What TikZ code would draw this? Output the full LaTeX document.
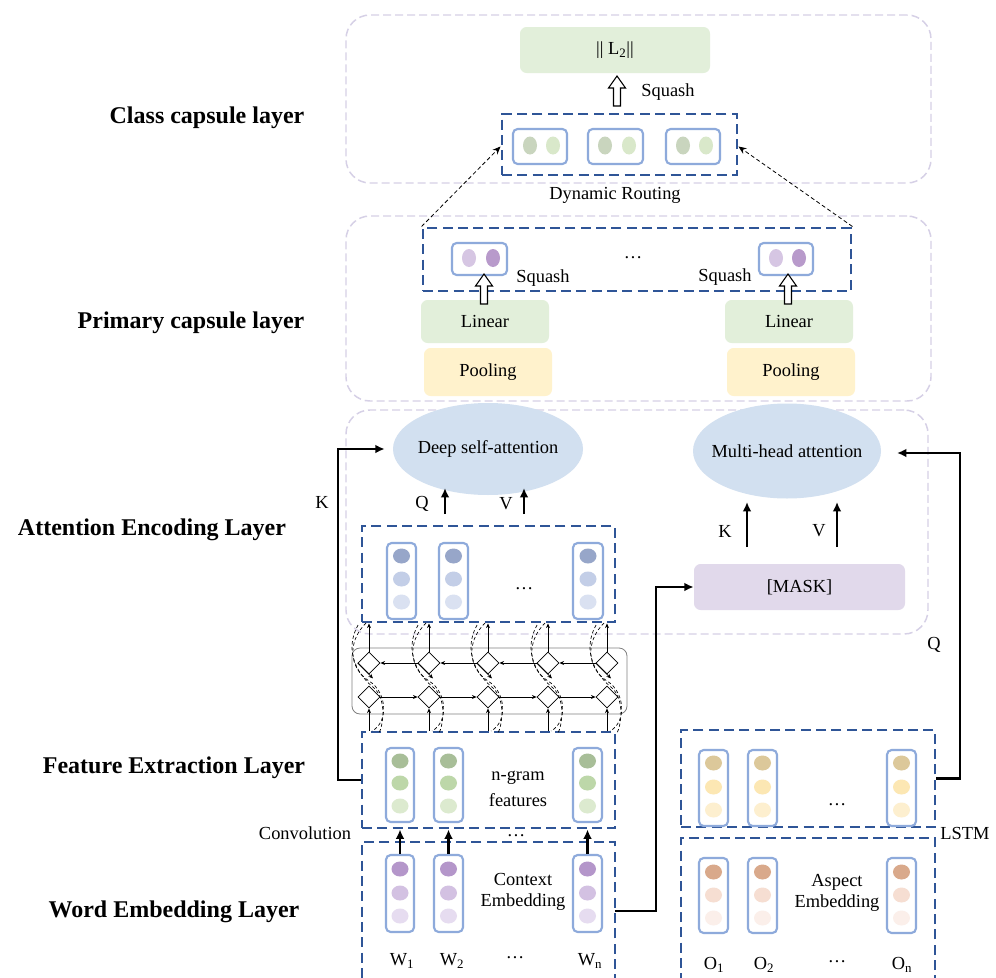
\documentclass[tikz,border=0pt]{standalone}
\usepackage{fontspec}
\setmainfont{Liberation Serif}
\usetikzlibrary{shapes.geometric,arrows.meta,fit,calc}
\newdimen\pxu \pxu=0.75pt
\definecolor{dblue}{HTML}{2F5597}
\definecolor{contc}{HTML}{D6D0E6}
\definecolor{lblue}{HTML}{8EAADB}
\definecolor{lgreen}{HTML}{E2EFDA}
\definecolor{lyellow}{HTML}{FFF2CC}
\definecolor{lpurple}{HTML}{E1D9EB}
\definecolor{ellblue}{HTML}{D2E0F0}
\definecolor{att1}{HTML}{97A6C9}\definecolor{att2}{HTML}{C3CEE7}\definecolor{att3}{HTML}{DAE1F1}
\definecolor{fea1}{HTML}{A8BE98}\definecolor{fea2}{HTML}{BDD7A9}\definecolor{fea3}{HTML}{DCEACF}
\definecolor{wrd1}{HTML}{B496CA}\definecolor{wrd2}{HTML}{D3C1E2}\definecolor{wrd3}{HTML}{E6DCF0}
\definecolor{lst1}{HTML}{DCC89A}\definecolor{lst2}{HTML}{FCE7B3}\definecolor{lst3}{HTML}{FDEFCF}
\definecolor{asp1}{HTML}{D9A98B}\definecolor{asp2}{HTML}{F6DED2}\definecolor{asp3}{HTML}{FBEFEA}
\definecolor{cga}{HTML}{C9D5BE}\definecolor{cgb}{HTML}{D9E8CA}
\definecolor{cpa}{HTML}{D6C6E3}\definecolor{cpb}{HTML}{B89ACB}
% column with three circles: name, x1,y1,x2,y2, ya,yb,yc, colour prefix
\newcommand\colthree[9]{%
  \node[colbox, fit={(#2,#3) (#4,#5)}] (#1) {};
  \fill[#91] ({(#2+#4)/2},#6) ellipse [x radius=8.5, y radius=7.5];
  \fill[#92] ({(#2+#4)/2},#7) ellipse [x radius=8.5, y radius=7.5];
  \fill[#93] ({(#2+#4)/2},#8) ellipse [x radius=8.5, y radius=7.5];
}
% capsule with two ellipses: name, x1,y1,x2,y2, colA, colB
\newcommand\captwo[7]{%
  \node[colbox, fit={(#2,#3) (#4,#5)}] (#1) {};
  \fill[#6] ({#2+17},{(#3+#5)/2-1}) ellipse [x radius=7, y radius=9];
  \fill[#7] ({#4-14},{(#3+#5)/2-1}) ellipse [x radius=7, y radius=9];
}
% hollow up arrow: x, ybottom, ytop
\newcommand\hollowup[3]{%
  \draw[black, line width=0.8pt, fill=white, line join=miter]
   ({#1-3.5},#2) -- ({#1-3.5},{#3+12}) -- ({#1-8.5},{#3+12}) -- (#1,#3)
   -- ({#1+8.5},{#3+12}) -- ({#1+3.5},{#3+12}) -- ({#1+3.5},#2) -- cycle;
}
\begin{document}
\begin{tikzpicture}[x=0.75pt,y=-0.75pt,
 txt/.style={font=\fontsize{13.8}{16}\selectfont, inner sep=0pt},
 lbl/.style={font=\fontsize{18}{21}\selectfont\bfseries, inner sep=0pt},
 cont/.style={draw=contc, line width=1.1pt, dash pattern=on 6pt off 3pt, rounded corners=18pt, inner sep=0pt},
 bbox/.style={draw=dblue, line width=2.2pt, dash pattern=on 7.5pt off 4pt, inner sep=0pt},
 colbox/.style={draw=lblue, line width=1.6pt, rounded corners=3.5pt, inner sep=0pt},
 fbox/.style={rounded corners=5pt, inner sep=0pt},
 conn/.style={line width=1.7pt, -{Latex[length=7pt,width=6.5pt]}},
 thinarr/.style={line width=0.5pt, -{Stealth[length=3.5pt,width=3pt]}},
 dia/.style={diamond, draw, line width=0.6pt, minimum width=22\pxu, minimum height=22\pxu, inner sep=0pt},
 route/.style={line width=0.6pt, dash pattern=on 3pt off 2pt, -{Stealth[length=6pt,width=5pt]}},
 bil/.style={line width=0.5pt, dash pattern=on 2.5pt off 1.8pt},
 ell/.style={ellipse, fill=ellblue, inner sep=0pt}
]
\useasboundingbox (0,0) rectangle (996,978);
\clip (0,0) rectangle (996,978);
\fill[white] (0,0) rectangle (996,978);

% layer containers
\node[cont, fit={(346,15) (931,183)}] (c1) {};
\node[cont, fit={(346,216) (931,401)}] (c2) {};
\node[cont, fit={(346,410) (928,634)}] (c3) {};

% left labels
\node[lbl] (lb1) at (207,118) {Class capsule layer};
\node[lbl] (lb2) at (191,323) {Primary capsule layer};
\node[lbl] (lb3) at (152,530) {Attention Encoding Layer};
\node[lbl] (lb4) at (174,768) {Feature Extraction Layer};
\node[lbl] (lb5) at (174,912) {Word Embedding Layer};

% ---- class capsule layer
\node[fbox, fill=lgreen, fit={(520,27) (710,73)}] (l2) {};
\node[txt] (l2t) at (l2) {|| L\textsubscript{2}||};
\hollowup{617}{106}{76}
\node[txt] (sq0) at (668,92) {Squash};
\node[bbox, fit={(502,114) (737,175)}] (classbox) {};
\captwo{k1}{513}{129}{567}{164}{cga}{cgb}
\captwo{k2}{588}{129}{643}{164}{cga}{cgb}
\captwo{k3}{666}{129}{720}{164}{cga}{cgb}
\node[txt] (dr) at (615,195) {Dynamic Routing};

% ---- primary capsule layer
\node[bbox, fit={(423,228) (851,291)}] (primbox) {};
\captwo{p1}{452}{243}{507}{275}{cpa}{cpb}
\captwo{p2}{759}{243}{813}{275}{cpa}{cpb}
\node[txt] (pdots) at (633,258) {…};
\node[txt] (sq1) at (543,278) {Squash};
\node[txt] (sq2) at (725,277) {Squash};
\node[fbox, fill=lgreen, fit={(421,300) (549,343)}] (lin1) {};
\node[txt] (lin1t) at (lin1) {Linear};
\node[fbox, fill=lgreen, fit={(725,300) (853,343)}] (lin2) {};
\node[txt] (lin2t) at (lin2) {Linear};
\node[fbox, fill=lyellow, fit={(424,348) (552,396)}] (pool1) {};
\node[txt] (pool1t) at (pool1) {Pooling};
\node[fbox, fill=lyellow, fit={(727,348) (855,396)}] (pool2) {};
\node[txt] (pool2t) at (pool2) {Pooling};
\hollowup{484}{304}{274}
\hollowup{788}{304}{274}

\draw[route] (primbox.north west) -- ([yshift=-2\pxu]classbox.west);
\draw[route] (primbox.north east) -- ([yshift=-2\pxu]classbox.east);

% ---- attention encoding layer
\node[ell, minimum width=190\pxu, minimum height=92\pxu] (dsa) at (488,449) {};
\node[txt] (dsat) at (dsa) {Deep self-attention};
\node[ell, minimum width=188\pxu, minimum height=95\pxu] (mha) at (787,451) {};
\node[txt] (mhat) at (mha) {Multi-head attention};

\node[bbox, fit={(362,526) (615,622)}] (attbox) {};
\colthree{a1}{387}{543}{416}{619}{556}{579}{602}{att}
\colthree{a2}{439}{543}{468}{619}{556}{579}{602}{att}
\colthree{a3}{573}{543}{603}{619}{556}{579}{602}{att}
\node[txt] (adots) at (524,589) {…};

\coordinate (qa) at (445,514); \coordinate (qb) at (445,488);
\coordinate (va) at (524,514); \coordinate (vb) at (524,488);
\draw[conn] (qa) -- (qb);
\draw[conn] (va) -- (vb);
\node[txt] (ql) at (422,504) {Q};
\node[txt] (vl) at (506,504) {V};

\node[fbox, fill=lpurple, fit={(694,564) (905,610)}] (mask) {};
\node[txt] (maskt) at (mask) {[MASK]};
\coordinate (ka) at (747,547); \coordinate (kb) at (747,502);
\coordinate (va2) at (837,547); \coordinate (vb2) at (837,502);
\draw[conn] (ka) -- (kb);
\draw[conn] (va2) -- (vb2);
\node[txt] (kl) at (725,531) {K};
\node[txt] (vl2) at (819,531) {V};

% ---- BiLSTM block
\node[draw=gray, line width=0.6pt, rounded corners=6pt, inner sep=0pt, fit={(352,648) (627,714)}] (bilstm) {};

% ---- feature extraction layer
\node[bbox, fit={(362,732) (615,828)}] (featbox) {};
\colthree{f1}{386}{748}{414}{822}{761}{783}{806}{fea}
\colthree{f2}{434}{748}{463}{822}{761}{783}{806}{fea}
\colthree{f3}{573}{748}{602}{822}{761}{783}{806}{fea}
\node[txt] (ng1) at (518,778) {n-gram};
\node[txt] (ng2) at (518,800) {features};

\foreach \x [count=\i] in {369,429,488,548,607} {
  \node[dia] (u\i) at (\x,663) {};
  \node[dia] (d\i) at (\x,697) {};
  \draw[thinarr] (u\i.north) -- (u\i.north |- attbox.south);
  \draw[thinarr] (d\i.south |- featbox.north) -- (d\i.south);
  \draw[thinarr] (u\i.west) -- ($(u\i.south)+(4,4)$);
  \draw[bil] (\x-3,623) .. controls (\x-22,642) and (\x-20,668) .. (\x,681) .. controls (\x+18,692) and (\x+20,722) .. (\x+3,731);
  \draw[bil] (\x-11,625) .. controls (\x-26,652) and (\x-10,676) .. (\x+5,688) .. controls (\x+18,700) and (\x+14,726) .. (\x+10,733);
}
\foreach \i/\j in {1/2,2/3,3/4,4/5} {
  \draw[thinarr] (u\j.west) -- (u\i.east);
  \draw[thinarr] (d\i.east) -- (d\j.west);
}

% ---- word embedding layer
\node[txt] (cdots) at (516,836) {…};
\node[bbox, fit={(362,842) (615,992)}] (wordbox) {};
\colthree{w1}{386}{855}{414}{932}{869}{893}{916}{wrd}
\colthree{w2}{434}{855}{463}{932}{869}{893}{916}{wrd}
\colthree{w3}{573}{855}{602}{932}{869}{893}{916}{wrd}
\node[txt] (ce1) at (523,879) {Context};
\node[txt] (ce2) at (523,902) {Embedding};
\node[txt] (wl1) at (402,961) {W\textsubscript{1}};
\node[txt] (wl2) at (452,961) {W\textsubscript{2}};
\node[txt] (wl3) at (515,958) {…};
\node[txt] (wl4) at (590,961) {W\textsubscript{n}};
\node[txt] (convl) at (305,833) {Convolution};
\foreach \i in {1,2,3} {
  \draw[conn] (w\i.north) -- (w\i.north |- featbox.south);
}

% ---- LSTM / aspect
\node[bbox, fit={(681,730) (935,827)}] (lstmbox) {};
\colthree{s1}{699}{750}{728}{826}{763}{787}{810}{lst}
\colthree{s2}{748}{750}{777}{826}{763}{787}{810}{lst}
\colthree{s3}{887}{750}{916}{826}{763}{787}{810}{lst}
\node[txt] (sdots) at (837,805) {…};
\node[txt] (lstml) at (965,833) {LSTM};

\node[bbox, fit={(681,838) (935,992)}] (aspbox) {};
\colthree{o1}{699}{858}{728}{933}{872}{895}{918}{asp}
\colthree{o2}{748}{858}{777}{933}{872}{895}{918}{asp}
\colthree{o3}{887}{858}{916}{933}{872}{895}{918}{asp}
\node[txt] (ae1) at (837,882) {Aspect};
\node[txt] (ae2) at (837,903) {Embedding};
\node[txt] (ol1) at (714,965) {O\textsubscript{1}};
\node[txt] (ol2) at (764,965) {O\textsubscript{2}};
\node[txt] (ol3) at (837,962) {…};
\node[txt] (ol4) at (902,965) {O\textsubscript{n}};

% ---- long connectors
\coordinate (kc1) at (338,780); \coordinate (kc2) at (338,449);
\draw[conn] (featbox.west) -- (kc1) -- (kc2) -- ([xshift=-8\pxu]dsa.west);
\node[txt] (kl2) at (322,502) {K};

\coordinate (qc1) at (960,778.5); \coordinate (qc2) at (960,453);
\coordinate (qtip) at (897,453);
\draw[conn] (lstmbox.east) -- (qc1) -- (qc2) -- (qtip);
\node[txt] (ql2) at (934,645) {Q};

\coordinate (mc0) at (615,911); \coordinate (mc1) at (656,911); \coordinate (mc2) at (656,587);
\draw[conn] (mc0) -- (mc1) -- (mc2) -- (mask.west |- mc2);
\end{tikzpicture}
\end{document}
